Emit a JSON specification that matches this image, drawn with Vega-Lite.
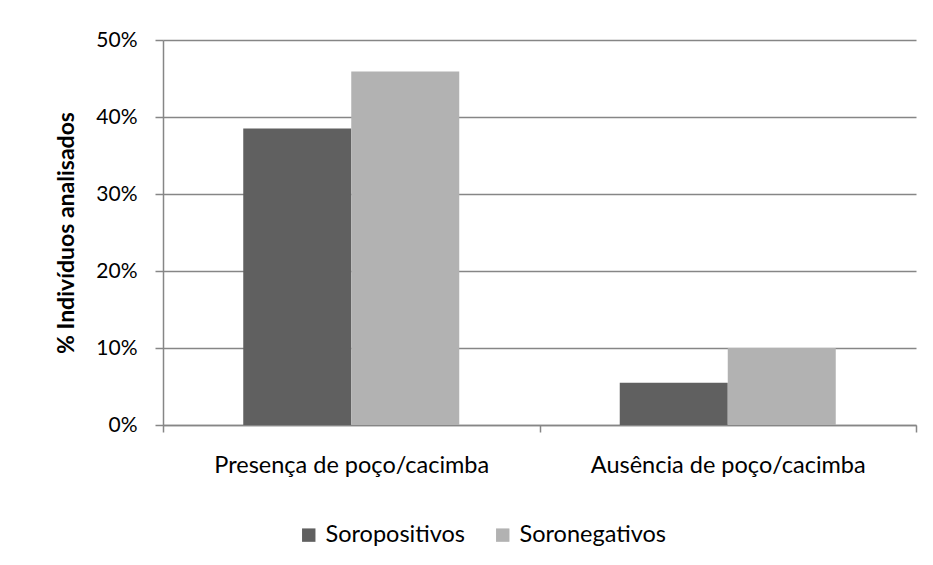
{
  "$schema": "https://vega.github.io/schema/vega-lite/v6.json",
  "autosize": {"type": "none"},
  "width": 753,
  "height": 385,
  "padding": {"left": 163, "top": 40, "right": 17, "bottom": 140},
  "background": "white",
  "config": {
    "view": {"stroke": null},
    "font": "Lato",
    "axis": {"labelFont": "Lato", "titleFont": "Lato"},
    "legend": {"labelFont": "Lato"}
  },
  "data": {
    "values": [
      {"categoria": "Presença de poço/cacimba", "grupo": "Soropositivos", "valor": 0.385},
      {"categoria": "Presença de poço/cacimba", "grupo": "Soronegativos", "valor": 0.459},
      {"categoria": "Ausência de poço/cacimba", "grupo": "Soropositivos", "valor": 0.055},
      {"categoria": "Ausência de poço/cacimba", "grupo": "Soronegativos", "valor": 0.100}
    ]
  },
  "mark": {"type": "bar"},
  "encoding": {
    "x": {
      "field": "categoria",
      "type": "nominal",
      "sort": ["Presença de poço/cacimba", "Ausência de poço/cacimba"],
      "scale": {"paddingInner": 0, "paddingOuter": 0},
      "axis": {
        "title": null,
        "labelAngle": 0,
        "labelFontSize": 23.5,
        "labelLimit": 400,
        "labelColor": "#000000",
        "labelPadding": 21,
        "tickBand": "extent",
        "tickSize": 7,
        "tickColor": "#868686",
        "tickWidth": 1.5,
        "domainColor": "#868686",
        "domainWidth": 1.5,
        "grid": false
      }
    },
    "xOffset": {
      "field": "grupo",
      "type": "nominal",
      "sort": ["Soropositivos", "Soronegativos"],
      "scale": {"paddingInner": 0, "paddingOuter": 0.743}
    },
    "y": {
      "field": "valor",
      "type": "quantitative",
      "scale": {"domain": [0, 0.5], "nice": false},
      "axis": {
        "title": "% Indivíduos analisados",
        "titleFontSize": 23,
        "titleFontWeight": "bold",
        "titleColor": "#000000",
        "titlePadding": 17,
        "format": ".0%",
        "values": [0, 0.1, 0.2, 0.3, 0.4, 0.5],
        "labelFontSize": 21,
        "labelColor": "#000000",
        "labelPadding": 18,
        "tickSize": 8,
        "tickColor": "#868686",
        "tickWidth": 1.5,
        "domainColor": "#868686",
        "domainWidth": 1.5,
        "grid": true,
        "gridColor": "#868686",
        "gridWidth": 1.5
      }
    },
    "color": {
      "field": "grupo",
      "type": "nominal",
      "sort": ["Soropositivos", "Soronegativos"],
      "scale": {"domain": ["Soropositivos", "Soronegativos"], "range": ["#606060", "#B2B2B2"]},
      "legend": {
        "title": null,
        "orient": "none",
        "direction": "horizontal",
        "legendX": 134,
        "legendY": 483,
        "symbolType": "square",
        "symbolSize": 180,
        "symbolStrokeWidth": 0,
        "labelFontSize": 23.5,
        "labelColor": "#000000",
        "labelOffset": 5,
        "columnPadding": 26
      }
    }
  }
}
